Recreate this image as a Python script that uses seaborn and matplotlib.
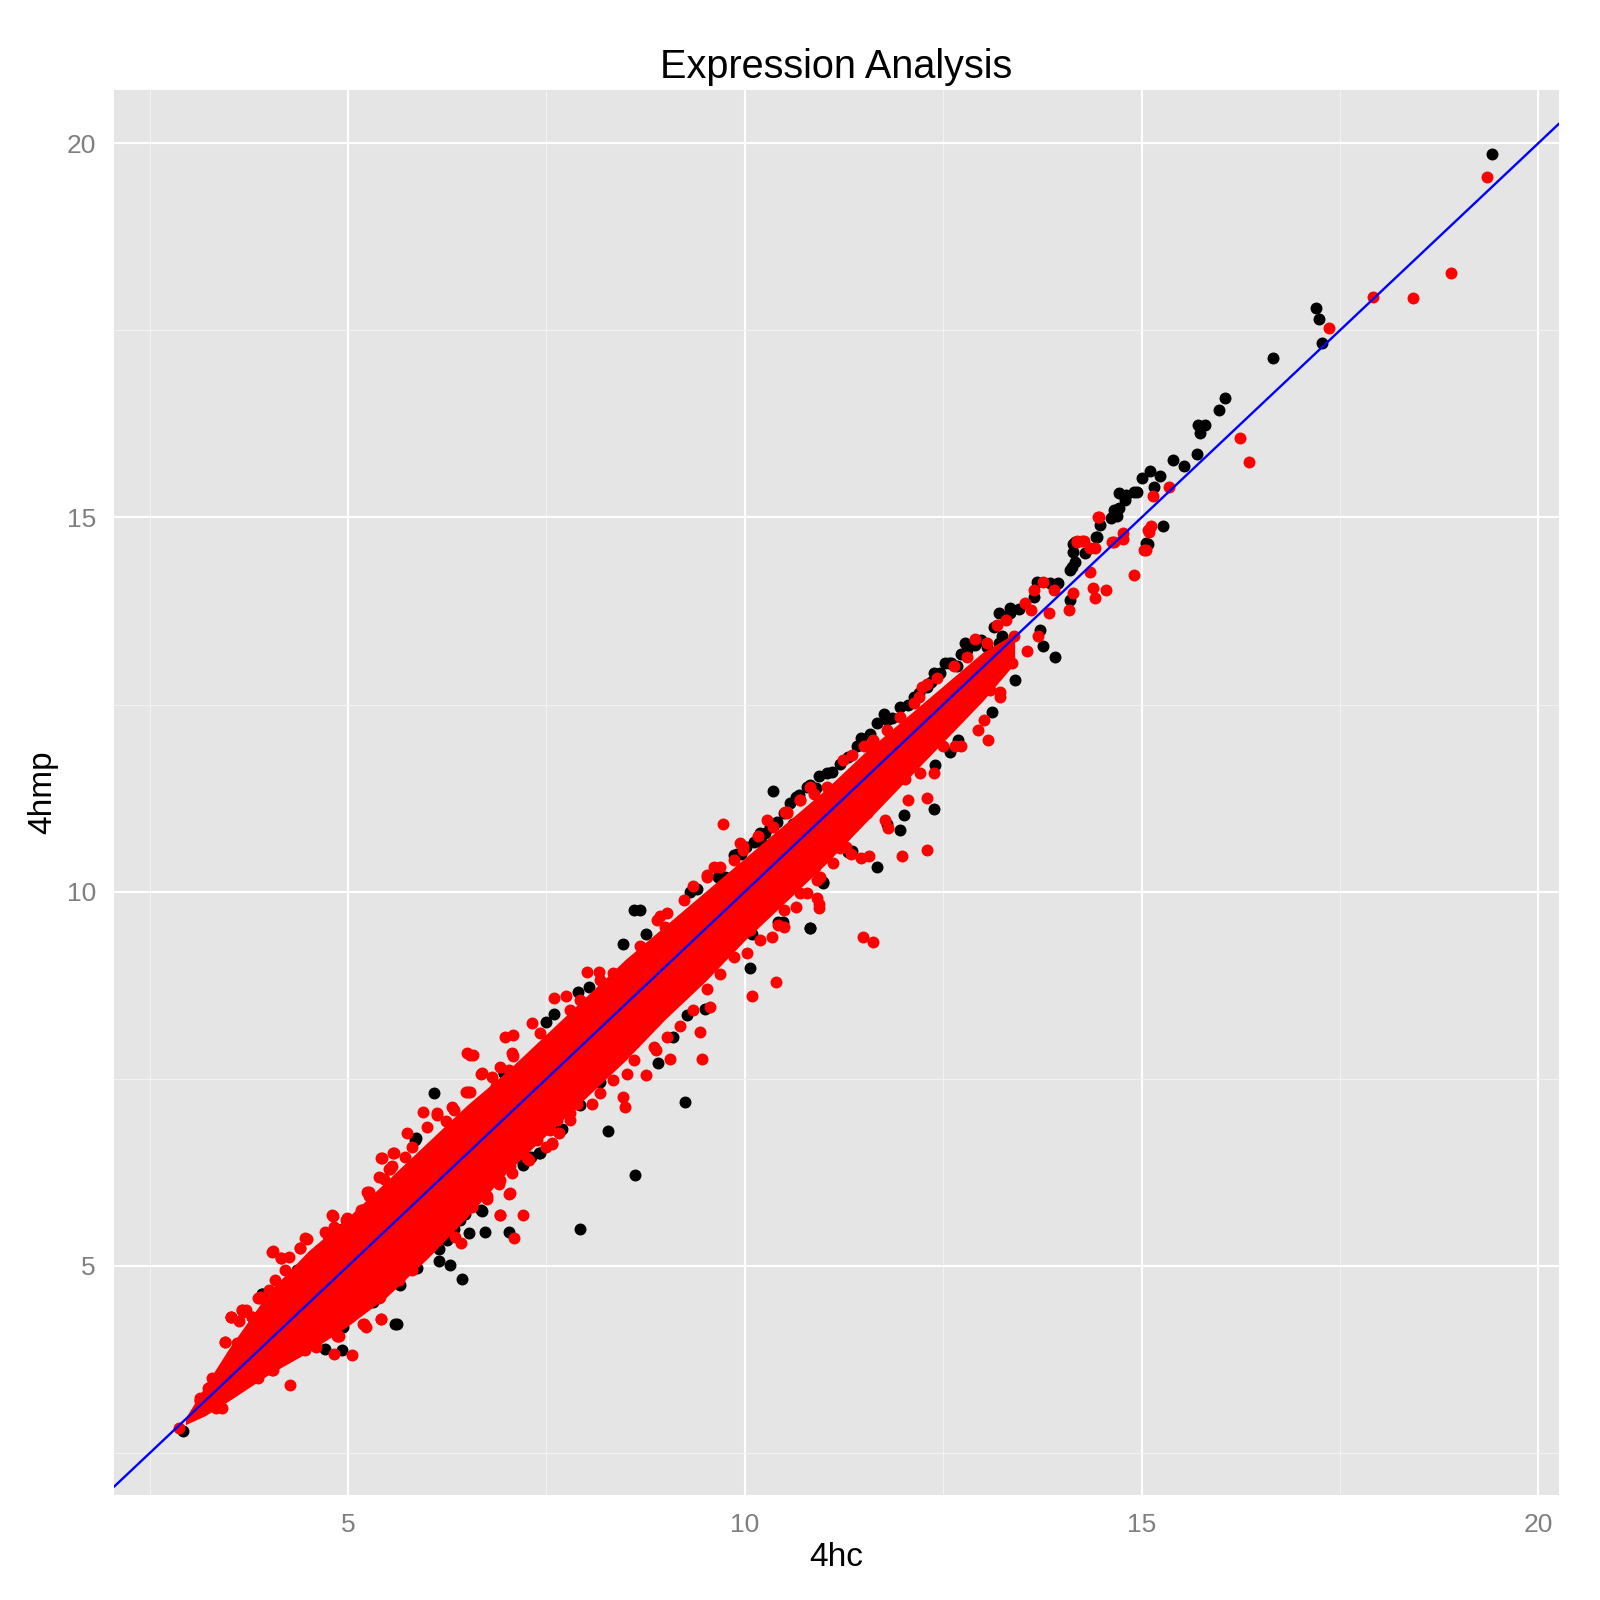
import numpy as np
import pandas as pd
import matplotlib
matplotlib.use("Agg")
import matplotlib.pyplot as plt
import seaborn as sns

# ---------------- data ----------------
black_x = [6.08, 5.85, 6.96, 7.40, 7.66, 7.21, 6.79, 6.42, 6.69, 6.52, 6.72, 7.03, 6.25, 6.33, 6.14, 6.14,
           6.29, 6.44, 5.87, 5.66, 5.62, 4.92, 4.92, 4.71, 3.92, 4.63, 4.92, 2.92, 6.90,
           8.60, 8.68, 8.46, 8.76, 8.04, 7.90, 7.50, 7.59, 6.96, 5.84, 10.98, 10.82, 10.48, 10.07, 9.50,
           9.27, 9.09, 8.90, 9.24, 8.28, 8.62, 7.69, 7.42, 7.21, 8.18, 7.92, 6.47, 6.68, 6.41, 7.92,
           10.36, 10.65, 10.61, 10.32, 10.21, 9.86, 9.40, 9.31, 9.75, 11.26, 11.30,
           14.65, 14.71, 14.79, 14.44, 14.14, 14.16, 14.10, 15.08, 13.95, 13.85, 13.68, 13.64, 13.34,
           13.20, 14.10, 13.91, 13.72, 13.76, 13.41, 13.24, 13.20, 13.11, 13.05, 12.78, 12.73, 12.57,
           12.67, 12.52, 12.38, 12.69, 12.59, 12.40, 11.75, 11.66, 11.58, 11.46, 10.93, 10.82, 10.68,
           10.34, 10.11, 9.90, 9.86, 9.66, 12.38, 12.00, 11.79, 11.96, 11.35, 11.66, 10.99, 10.82,
           10.42, 10.09,
           10.02, 10.19, 10.49, 10.57, 10.78, 11.03, 11.20, 11.41, 11.79, 11.96, 12.13, 12.29, 12.46,
           12.80, 12.97, 13.14, 13.34, 6.03, 6.24, 5.30, 5.95, 7.30,
           9.95, 10.25, 10.40, 10.90, 11.10, 11.30, 11.85, 12.05, 12.20, 12.35, 12.60, 12.90, 13.45,
           4.94, 4.65, 3.91, 4.35, 5.32, 5.59, 4.94,
           19.42, 17.20, 17.24, 17.27, 16.65, 16.05, 15.97, 15.71, 15.80, 15.73, 15.70, 15.40, 15.53,
           15.10, 15.23, 15.00, 15.15, 14.71, 14.80, 14.90, 14.94, 14.65, 14.69, 14.61, 14.48, 14.42,
           15.27, 15.05, 14.16, 14.14, 14.29, 14.12]
black_y = [7.31, 6.71, 7.58, 6.51, 6.83, 6.37, 6.24, 5.70, 5.73, 5.44, 5.45, 5.46, 5.35, 5.50, 5.22, 5.07,
           5.01, 4.82, 4.97, 4.75, 4.23, 4.18, 3.88, 3.89, 4.63, 5.21, 5.50, 2.79, 7.35,
           9.76, 9.76, 9.30, 9.44, 8.73, 8.66, 8.26, 8.37, 7.58, 6.68, 10.12, 9.51, 9.60, 8.98, 8.43,
           8.35, 8.06, 7.71, 7.19, 6.80, 6.22, 6.83, 6.51, 6.35, 7.46, 7.15, 5.70, 5.75, 5.61, 5.50,
           11.34, 11.27, 10.91, 10.87, 10.65, 10.49, 10.04, 10.00, 10.20, 10.76, 10.53,
           15.05, 15.12, 15.23, 14.74, 14.65, 14.41, 14.30, 14.65, 14.12, 14.12, 14.14, 13.94, 13.79,
           13.72, 13.90, 13.14, 13.49, 13.28, 12.83, 13.41, 13.32, 12.40, 13.27, 13.32, 13.18, 13.05,
           13.01, 13.05, 12.92, 12.03, 11.87, 11.69, 12.38, 12.25, 12.11, 12.05, 11.54, 11.42, 11.29,
           10.89, 10.67, 10.51, 10.09, 10.20, 11.10, 11.02, 10.91, 10.82, 10.55, 10.33, 10.13, 9.52,
           9.60, 9.44,
           10.60, 10.78, 11.05, 11.18, 11.40, 11.58, 11.71, 11.94, 12.29, 12.47, 12.60, 12.74, 12.92,
           13.23, 13.36, 13.54, 13.72, 5.53, 5.57, 4.55, 5.30, 6.45,
           10.50, 10.78, 10.93, 11.38, 11.60, 11.80, 12.32, 12.50, 12.65, 12.80, 13.05, 13.30, 13.78,
           5.50, 5.21, 4.63, 4.95, 4.52, 4.23, 4.19,
           19.86, 17.80, 17.65, 17.33, 17.13, 16.59, 16.44, 16.24, 16.23, 16.13, 15.85, 15.77, 15.69,
           15.62, 15.55, 15.52, 15.41, 15.33, 15.30, 15.34, 15.34, 15.10, 15.02, 14.99, 14.90, 14.74,
           14.88, 14.66, 14.67, 14.54, 14.52, 14.34]

red_x = [6.54, 6.69, 6.54, 5.95, 6.12, 5.58, 5.43, 6.00, 5.53, 5.24, 5.16, 4.80, 4.46, 4.04, 4.15, 3.87,
         3.66, 3.52, 3.45, 3.62, 3.58, 3.83, 4.04, 4.27, 3.29, 3.14, 3.33, 3.41, 2.87, 4.82, 5.05, 4.87,
         5.20, 5.41, 5.39, 6.42, 6.92, 7.21, 7.09, 7.03, 7.57, 6.75,
         3.13, 3.26, 3.39, 3.49, 3.47, 3.64, 3.60, 3.53, 3.68, 4.05,
         3.14, 3.24, 3.29, 3.47, 3.71, 3.79, 3.89, 4.00, 4.08, 4.25, 4.40, 4.71, 4.97, 5.26, 5.39,
         5.55, 5.72, 5.81, 6.23, 6.31, 6.48, 6.86, 7.03, 7.07,
         3.87, 4.46, 4.59, 4.88, 5.22, 5.64, 5.81, 6.00, 6.14, 6.35, 6.56, 6.73, 6.90, 7.07, 7.28,
         7.49, 7.66,
         5.57, 5.42, 5.52, 5.45, 5.26, 5.17, 4.98, 4.81, 4.82, 4.75, 4.48, 4.39, 4.05, 4.16, 4.20,
         4.23, 4.14, 3.89, 3.66, 3.53, 3.62, 3.45, 3.60, 3.79, 5.40, 5.19, 5.42, 5.03, 4.86, 5.53,
         9.72, 10.17, 9.98, 10.51, 9.52, 8.93, 8.99, 8.01, 8.16, 7.59, 7.74, 7.32, 6.98, 7.08, 6.50,
         6.58, 6.68, 6.51, 10.91, 10.93, 10.42, 10.34, 10.39, 10.09, 9.56, 9.44, 9.46, 9.06, 8.88,
         8.76, 8.46, 8.49, 8.07, 7.88, 7.80, 7.57, 7.25, 7.04, 6.92, 6.75, 6.56, 11.20, 10.70, 10.89,
         5.74, 6.12, 6.33, 6.81, 6.92, 7.08, 7.42, 7.80, 7.92, 8.18, 8.34, 8.51, 8.68, 8.89, 9.02,
         9.23, 9.35, 9.52, 9.69, 9.86, 9.98, 10.36, 10.53, 10.70, 10.82,
         6.92, 7.04, 7.38, 7.55, 7.63, 7.80, 8.18, 8.34, 8.51, 8.60, 8.85, 9.02, 9.18, 9.35, 9.52,
         9.69, 9.86, 10.03, 10.19, 10.49, 10.65, 10.78, 10.95, 11.11, 11.28,
         14.46, 14.19, 14.27, 14.41, 14.77, 14.65, 15.08, 15.05, 14.90, 14.39, 14.41, 14.55, 14.35,
         13.76, 13.64, 13.89, 14.14, 14.08, 13.83, 13.53, 13.60, 13.70, 13.55, 13.39, 13.37, 13.18,
         13.29, 12.90, 13.05, 13.09, 13.22, 12.94, 13.07, 12.50, 12.65, 12.29, 12.42, 12.23, 12.19,
         12.27, 12.38, 11.35, 11.24, 11.50, 11.58, 12.21, 12.02, 12.30, 12.30, 11.98, 11.46, 11.56,
         11.81, 11.64, 11.54, 10.93, 11.49, 11.62, 10.53, 10.42, 10.70, 10.82,
         9.61, 9.94, 10.28, 10.70, 10.87, 11.03, 11.62, 11.79, 11.96, 12.13, 12.63, 12.80,
         10.07, 10.49, 10.91, 11.34, 11.76, 12.05, 12.38, 12.72, 13.01, 13.22,
         19.35, 18.90, 18.42, 17.92, 17.36, 16.24, 16.35, 15.35, 15.14, 14.45, 15.12, 15.09, 15.03,
         14.18, 14.25, 14.35, 14.63, 14.77]
red_y = [7.82, 7.58, 7.33, 7.05, 7.02, 6.51, 6.44, 6.86, 6.30, 5.99, 5.75, 5.68, 5.37, 5.19, 5.10, 4.57,
         4.41, 4.32, 3.99, 3.97, 3.72, 3.59, 3.61, 3.41, 3.39, 3.21, 3.10, 3.10, 2.83, 3.83, 3.81, 4.07,
         4.23, 4.29, 4.57, 5.31, 5.68, 5.68, 5.37, 5.96, 6.63, 5.90,
         3.19, 3.38, 3.43, 3.32, 3.57, 3.50, 3.72, 4.32, 4.39, 3.61,
         3.23, 3.37, 3.50, 3.57, 4.41, 4.32, 4.57, 4.68, 4.81, 5.12, 5.24, 5.46, 5.61, 5.93, 6.19,
         6.33, 6.46, 6.59, 6.93, 7.13, 7.33, 7.40, 7.62, 7.84,
         3.50, 3.88, 3.92, 4.06, 4.19, 4.81, 4.95, 5.21, 5.39, 5.39, 5.79, 5.93, 6.10, 6.24, 6.42,
         6.59, 6.77,
         6.51, 6.44, 6.30, 6.16, 5.99, 5.75, 5.64, 5.67, 5.52, 5.40, 5.36, 5.24, 5.20, 5.10, 4.95,
         4.77, 4.70, 4.59, 4.41, 4.32, 4.26, 3.99, 3.97, 4.32, 4.59, 4.23, 4.29, 4.32, 4.06, 4.86,
         10.90, 10.74, 10.61, 11.07, 10.20, 9.67, 9.53, 8.93, 8.93, 8.58, 8.60, 8.24, 8.06, 8.09, 7.84,
         7.82, 7.57, 7.33, 9.91, 9.78, 9.55, 9.40, 8.80, 8.60, 8.46, 8.12, 7.77, 7.77, 7.89,
         7.55, 7.26, 7.13, 7.17, 7.17, 6.95, 6.64, 6.44, 5.97, 5.68, 5.93, 5.80, 10.58, 10.22, 10.33,
         6.77, 7.04, 7.08, 7.53, 7.66, 7.80, 8.11, 8.42, 8.55, 8.82, 8.91, 9.00, 9.27, 9.62, 9.71,
         9.89, 10.07, 10.22, 10.33, 10.42, 10.56, 10.87, 11.05, 11.22, 11.40,
         6.15, 6.33, 6.68, 6.82, 6.95, 7.04, 7.31, 7.48, 7.57, 7.75, 7.93, 8.06, 8.20, 8.42, 8.70,
         8.90, 9.13, 9.18, 9.35, 9.53, 9.80, 9.98, 10.20, 10.38, 10.60,
         15.01, 14.67, 14.69, 14.59, 14.79, 14.67, 14.83, 14.56, 14.23, 14.06, 13.92, 14.03, 14.27,
         14.14, 14.03, 14.03, 13.99, 13.76, 13.72, 13.85, 13.76, 13.41, 13.21, 13.41, 13.05, 13.56,
         13.63, 13.38, 13.32, 12.69, 12.67, 12.16, 12.03, 11.94, 11.94, 12.77, 12.85, 12.74, 12.60,
         12.16, 12.05, 11.83, 11.76, 11.94, 11.96, 11.58, 11.51, 11.25, 10.56, 10.47, 10.45, 10.47,
         10.85, 11.18, 11.05, 9.84, 9.40, 9.33, 11.07, 10.33, 9.98, 10.31,
         10.33, 10.65, 10.96, 11.22, 11.31, 11.40, 12.03, 12.16, 12.34, 12.52, 13.01, 13.14,
         9.49, 9.76, 10.16, 10.51, 10.96, 11.22, 11.58, 11.94, 12.29, 12.60,
         19.55, 18.27, 17.93, 17.95, 17.53, 16.06, 15.74, 15.40, 15.28, 15.01, 14.88, 14.81, 14.56,
         14.69, 14.69, 14.59, 14.67, 14.71]

# dense, fully overlapped core of the red series (envelope)
red_core_x = [2.95, 3.2, 3.5, 4.0, 4.5, 5.0, 5.5, 6.0, 6.5, 7.0, 7.5, 8.0, 8.5, 9.0, 9.5, 10.0,
              10.5, 11.0, 11.5, 12.0, 12.5, 13.0, 13.4]
red_core_hi = [2.97, 3.4, 3.9, 4.65, 5.2, 5.65, 6.15, 6.65, 7.15, 7.6, 8.1, 8.6, 9.1, 9.55, 10.0,
               10.45, 10.9, 11.35, 11.85, 12.3, 12.75, 13.2, 13.45]
red_core_lo = [2.88, 3.0, 3.2, 3.55, 3.85, 4.2, 4.6, 5.1, 5.65, 6.25, 6.75, 7.25, 7.75, 8.3, 8.8,
               9.35, 9.85, 10.35, 10.9, 11.45, 12.0, 12.55, 13.05]

x_ticks = [5, 10, 15, 20]
y_ticks = [5, 10, 15, 20]
title = "Expression Analysis"
x_label = "4hc"
y_label = "4hmp"

# ---------------- styling ----------------
sns.set_theme(style="white")
plt.rcParams["font.family"] = ["Liberation Sans", "DejaVu Sans"]

df_black = pd.DataFrame({"x": black_x, "y": black_y})
df_red = pd.DataFrame({"x": red_x, "y": red_y})

fig = plt.figure(figsize=(16, 16), dpi=100)
ax = fig.add_axes([0.07125, 0.065625, 0.903125, 0.878125])
ax.set_facecolor("#E5E5E5")
for s in ax.spines.values():
    s.set_visible(False)

ax.set_xlim(2.05, 20.26)
ax.set_ylim(1.94, 20.71)
ax.set_xticks(x_ticks)
ax.set_yticks(y_ticks)
ax.set_xticks([2.5, 7.5, 12.5, 17.5], minor=True)
ax.set_yticks([2.5, 7.5, 12.5, 17.5], minor=True)
ax.set_axisbelow(True)
ax.grid(which="major", color="white", linewidth=1.5)
ax.grid(which="minor", color="#F2F2F2", linewidth=0.8)
ax.tick_params(which="major", length=8, width=1.3, color="#7F7F7F", labelcolor="#7F7F7F",
               labelsize=19, pad=5)
ax.tick_params(which="minor", length=0)

pt_size = 74
sns.scatterplot(data=df_black, x="x", y="y", ax=ax, color="black", s=pt_size, linewidth=0,
                zorder=3, legend=False)
ax.fill_between(red_core_x, red_core_lo, red_core_hi, color="#FF0000", lw=0, zorder=4)
sns.scatterplot(data=df_red, x="x", y="y", ax=ax, color="#FF0000", s=pt_size, linewidth=0,
                zorder=5, legend=False)
ax.axline((0, 0), slope=1, color="#0000FF", lw=1.7, zorder=6)

ax.set_xlabel(x_label, fontsize=24, color="black")
ax.set_ylabel(y_label, fontsize=24, color="black")
ax.xaxis.set_label_coords(0.5, -0.0448)
ax.yaxis.set_label_coords(-0.0491, 0.5)
ax.xaxis.label.set_va("center")
ax.yaxis.label.set_va("center")
ax.text(0.5, 1.0164, title, transform=ax.transAxes, ha="center", va="center", fontsize=28.5,
        color="black")

fig.savefig("out.png", dpi=100)
